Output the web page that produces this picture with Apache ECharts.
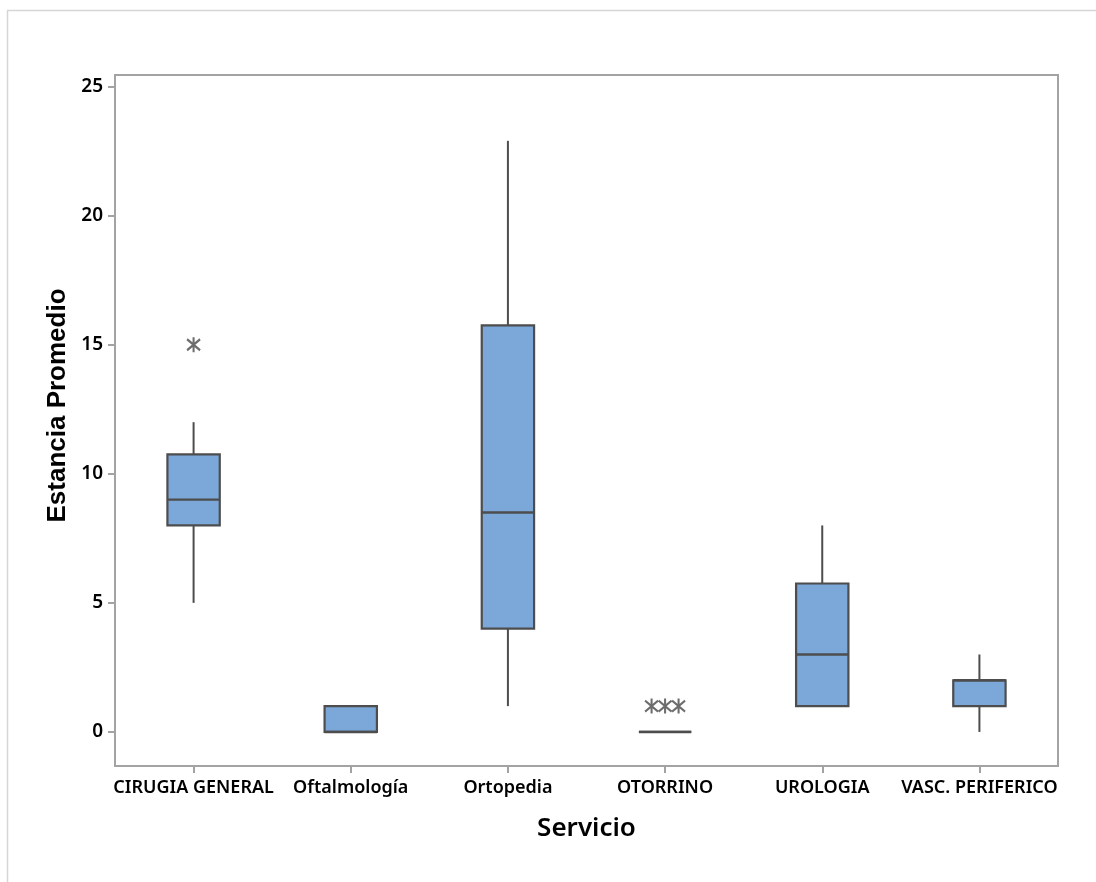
<!DOCTYPE html>
<html>
<head>
<meta charset="utf-8">
<title>Estancia Promedio por Servicio</title>
<script src="https://cdn.jsdelivr.net/npm/echarts@6/dist/echarts.min.js"></script>
<style>
  html, body { margin: 0; padding: 0; background: #ffffff; }
  #chart { width: 1096px; height: 882px; }
</style>
</head>
<body>
<div id="chart"></div>
<script>
// Services on the horizontal axis
const categories = ['CIRUGIA GENERAL', 'Oftalmología', 'Ortopedia', 'OTORRINO', 'UROLOGIA', 'VASC. PERIFERICO'];

// Box-plot summaries per service (average stay, days)
const whiskerLow  = [5,     0, 1,     0, 1,    0];
const quartile1   = [8,     0, 4,     0, 1,    1];
const medianVal   = [9,     0, 8.5,   0, 3,    2];
const quartile3   = [10.75, 1, 15.75, 0, 5.75, 2];
const whiskerHigh = [12,    1, 22.9,  0, 8,    3];

// Outliers per service
const outliers = [[15], [], [], [1, 1, 1], [], []];

// Y axis tick labels
const yTicks = [0, 5, 10, 15, 20, 25];

const UI_FONT = '"Noto Sans", "Open Sans", sans-serif';
const BOX_FILL = '#7BA7D9';
const INK = '#4d4d4d';
const FRAME = '#a3a3a3';

const boxData = categories.map((c, i) => [i, whiskerLow[i], quartile1[i], medianVal[i], quartile3[i], whiskerHigh[i]]);

// Spread identical outliers of one service side by side
const outlierData = [];
outliers.forEach((vals, i) => {
  const groups = {};
  vals.forEach(v => { groups[v] = (groups[v] || 0) + 1; });
  Object.keys(groups).forEach(k => {
    const n = groups[k];
    for (let j = 0; j < n; j++) {
      outlierData.push({ value: [i, Number(k)], symbolOffset: [(j - (n - 1) / 2) * 13.5, 0] });
    }
  });
});

const chart = echarts.init(document.getElementById('chart'), null, { renderer: 'canvas' });

chart.setOption({
  animation: false,
  backgroundColor: '#ffffff',
  graphic: [{
    type: 'rect',
    z: -10,
    silent: true,
    shape: { x: 7.5, y: 10.5, width: 1200, height: 1000 },
    style: { fill: 'none', stroke: '#d6d6d6', lineWidth: 1.5 }
  }],
  grid: {
    left: 115, top: 75, right: 38, bottom: 116,
    containLabel: false,
    outerBoundsMode: 'none',
    show: true,
    backgroundColor: '#ffffff',
    borderColor: FRAME,
    borderWidth: 2
  },
  xAxis: {
    type: 'category',
    data: categories,
    boundaryGap: true,
    axisLine: { show: false, onZero: false },
    axisTick: { show: true, alignWithLabel: true, length: 7, lineStyle: { color: FRAME, width: 2 } },
    axisLabel: {
      margin: 13,
      color: '#000000',
      fontFamily: UI_FONT,
      fontWeight: 600,
      fontSize: 18,
      interval: 0
    },
    splitLine: { show: false },
    name: 'Servicio',
    nameLocation: 'middle',
    nameGap: 50,
    nameTextStyle: { color: '#000000', fontFamily: UI_FONT, fontWeight: 600, fontSize: 26 }
  },
  yAxis: {
    type: 'value',
    min: -1.32,
    max: 25.45,
    axisLine: { show: false },
    axisTick: { show: true, customValues: yTicks, length: 7, lineStyle: { color: FRAME, width: 2 } },
    axisLabel: {
      customValues: yTicks,
      margin: 12,
      color: '#000000',
      fontFamily: UI_FONT,
      fontWeight: 600,
      fontSize: 19
    },
    splitLine: { show: false },
    name: 'Estancia Promedio',
    nameLocation: 'middle',
    nameRotate: 90,
    nameGap: 40,
    nameTextStyle: {
      color: '#000000',
      fontFamily: '"Liberation Sans", sans-serif',
      fontWeight: 'bold',
      fontSize: 26,
      padding: [0, 0, 0, 30]
    }
  },
  series: [
    {
      type: 'custom',
      name: 'Estancia',
      data: boxData,
      encode: { x: 0, y: [1, 2, 3, 4, 5] },
      renderItem: function (params, api) {
        const i = api.value(0);
        const x = api.coord([i, 0])[0];
        const w = api.size([1, 0])[0] * 0.333;
        const yLo = api.coord([i, api.value(1)])[1];
        const yQ1 = api.coord([i, api.value(2)])[1];
        const yMed = api.coord([i, api.value(3)])[1];
        const yQ3 = api.coord([i, api.value(4)])[1];
        const yHi = api.coord([i, api.value(5)])[1];
        const lineStyle = { stroke: INK, lineWidth: 2 };
        return {
          type: 'group',
          children: [
            { type: 'line', shape: { x1: x, y1: yHi, x2: x, y2: yQ3 }, style: lineStyle },
            { type: 'line', shape: { x1: x, y1: yQ1, x2: x, y2: yLo }, style: lineStyle },
            { type: 'rect', shape: { x: x - w / 2, y: yQ3, width: w, height: yQ1 - yQ3 },
              style: { fill: BOX_FILL, stroke: INK, lineWidth: 2.2 } },
            { type: 'line', shape: { x1: x - w / 2, y1: yMed, x2: x + w / 2, y2: yMed },
              style: { stroke: INK, lineWidth: 2.4 } }
          ]
        };
      }
    },
    {
      type: 'scatter',
      name: 'Atípicos',
      data: outlierData,
      symbol: 'path://M6,0L6,15M1,2L11,13M1,13L11,2',
      symbolSize: [13, 15],
      itemStyle: { color: 'transparent', borderColor: '#484848', borderWidth: 2.2 },
      z: 5
    }
  ]
});
</script>
</body>
</html>
